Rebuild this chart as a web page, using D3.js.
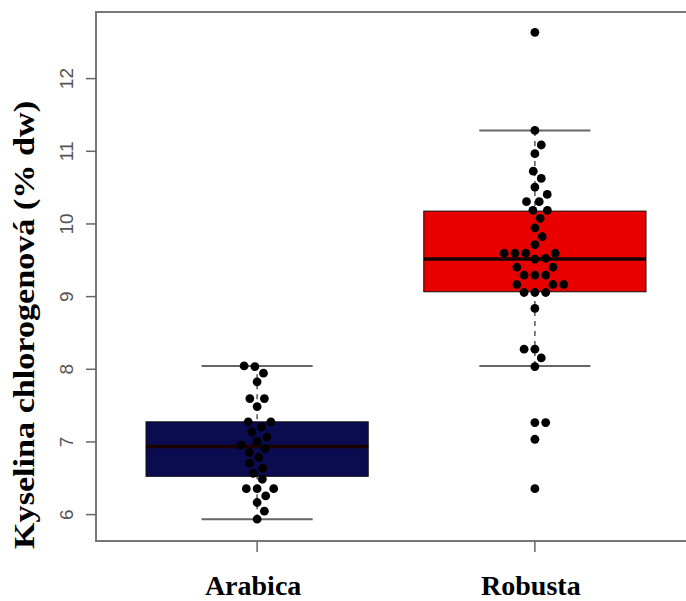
<!DOCTYPE html>
<head>
<style>
body { margin: 0; background: #fff; }
text.cat { font: bold 28px "Liberation Serif", "Times New Roman", serif; fill: #000; }
text.ytitle { font: bold 29px "Liberation Serif", "Times New Roman", serif; fill: #000; }
.tick text { font: 19px "Liberation Sans", Arial, sans-serif; fill: #555; }
</style>
<meta charset="utf-8">
<title></title>
</head>
<body>
<script src="https://cdn.jsdelivr.net/npm/d3@7"></script>
<script>

var categories = ["Arabica", "Robusta"];
var boxColors = ["#0b0b50", "#e80000"];

// box statistics: lower whisker, Q1, median, Q3, upper whisker
var lowWhisker = [5.93, 8.04];
var q1 = [6.52, 9.06];
var median = [6.93, 9.51];
var q3 = [7.27, 10.17];
var highWhisker = [8.04, 11.28];

var arabica = [5.93, 6.04, 6.16, 6.25, 6.35, 6.35, 6.35, 6.48, 6.56, 6.63, 6.70,
  6.78, 6.85, 6.90, 6.95, 7.00, 7.06, 7.13, 7.20, 7.27, 7.27, 7.48, 7.59, 7.59,
  7.82, 7.94, 8.03, 8.04];
var robusta = [6.35, 7.03, 7.26, 7.26, 8.03, 8.15, 8.27, 8.27, 8.83, 9.05, 9.05,
  9.05, 9.16, 9.16, 9.16, 9.29, 9.29, 9.29, 9.40, 9.40, 9.51, 9.52, 9.59, 9.59,
  9.59, 9.59, 9.71, 9.82, 9.94, 10.07, 10.18, 10.18, 10.30, 10.30, 10.40, 10.50,
  10.62, 10.72, 10.96, 11.08, 11.28, 12.63];
var series = [arabica, robusta];

var yTicks = [6, 7, 8, 9, 10, 11, 12];

var width = 686,
    height = 601;

var svg = d3.select("body").append("svg")
    .attr("width", width)
    .attr("height", height);

var x = d3.scaleLinear().domain([0.42, 2.58]).range([96, 696]);
var y = d3.scaleLinear().domain([5.63, 12.91]).range([541, 12]);

// frame
svg.append("rect")
    .attr("x", x(0.42))
    .attr("y", y(12.91))
    .attr("width", x(2.58) - x(0.42))
    .attr("height", y(5.63) - y(12.91))
    .style("fill", "none")
    .style("stroke", "#777")
    .style("stroke-width", 2);

// y axis
var yAxis = svg.append("g")
    .attr("transform", "translate(" + x(0.42) + ",0)")
    .call(d3.axisLeft(y).tickValues(yTicks).tickSize(10));
yAxis.select(".domain").remove();
yAxis.selectAll(".tick line").style("stroke", "#666").style("stroke-width", 1.5);
yAxis.selectAll(".tick text")
    .attr("text-anchor", "middle")
    .attr("dy", null)
    .attr("x", 0)
    .attr("y", 0)
    .attr("dominant-baseline", "central")
    .attr("transform", "translate(-30,0) rotate(-90)");

// x ticks
svg.append("g")
    .selectAll("line")
    .data(categories)
    .enter().append("line")
    .attr("x1", function(d, i) { return x(i + 1); })
    .attr("x2", function(d, i) { return x(i + 1); })
    .attr("y1", y(5.63))
    .attr("y2", y(5.63) + 11)
    .style("stroke", "#666")
    .style("stroke-width", 1.5);

svg.append("g")
    .selectAll("text")
    .data(categories)
    .enter().append("text")
    .attr("class", "cat")
    .attr("x", function(d, i) { return x(i + 1) - 4; })
    .attr("y", 595)
    .attr("text-anchor", "middle")
    .text(function(d) { return d; });

svg.append("text")
    .attr("class", "ytitle")
    .attr("transform", "translate(34,325) rotate(-90)")
    .attr("text-anchor", "middle")
    .attr("textLength", 448)
    .attr("lengthAdjust", "spacingAndGlyphs")
    .text("Kyselina chlorogenová (% dw)");

// boxes
var box = svg.append("g")
    .selectAll("g")
    .data(categories)
    .enter().append("g");

box.append("line")
    .attr("x1", function(d, i) { return x(i + 1); })
    .attr("x2", function(d, i) { return x(i + 1); })
    .attr("y1", function(d, i) { return y(lowWhisker[i]); })
    .attr("y2", function(d, i) { return y(highWhisker[i]); })
    .style("stroke", "#555")
    .style("stroke-width", 1.5)
    .style("stroke-dasharray", "5,5");

box.append("rect")
    .attr("x", function(d, i) { return x(i + 1 - 0.4); })
    .attr("width", function() { return x(1.4) - x(0.6); })
    .attr("y", function(d, i) { return y(q3[i]); })
    .attr("height", function(d, i) { return y(q1[i]) - y(q3[i]); })
    .style("fill", function(d, i) { return boxColors[i]; })
    .style("stroke", "#111")
    .style("stroke-width", 1);

box.append("line")
    .attr("x1", function(d, i) { return x(i + 1 - 0.4); })
    .attr("x2", function(d, i) { return x(i + 1 + 0.4); })
    .attr("y1", function(d, i) { return y(median[i]); })
    .attr("y2", function(d, i) { return y(median[i]); })
    .style("stroke", "#1a0000")
    .style("stroke-width", 3.5);

[lowWhisker, highWhisker].forEach(function(w) {
  box.append("line")
      .attr("x1", function(d, i) { return x(i + 1 - 0.2); })
      .attr("x2", function(d, i) { return x(i + 1 + 0.2); })
      .attr("y1", function(d, i) { return y(w[i]); })
      .attr("y2", function(d, i) { return y(w[i]); })
      .style("stroke", "#666")
      .style("stroke-width", 2);
});

// beeswarm ("swarm" method): place each point as close to the centre as possible
var dotR = 4.4,
    spacing = 10.8;

function swarm(values, cx) {
  var placed = [];
  values.slice().sort(d3.ascending).forEach(function(v) {
    var py = y(v);
    var near = placed.filter(function(p) { return Math.abs(p.y - py) < spacing; });
    var cands = [0];
    near.forEach(function(p) {
      var dx = Math.sqrt(spacing * spacing - (p.y - py) * (p.y - py));
      cands.push(p.off + dx, p.off - dx);
    });
    cands = cands.filter(function(c) {
      return near.every(function(p) {
        var dx = c - p.off, dy = p.y - py;
        return dx * dx + dy * dy >= spacing * spacing - 0.01;
      });
    });
    cands.sort(function(a, b) { return Math.abs(a) - Math.abs(b) || b - a; });
    placed.push({off: cands[0], y: py});
  });
  return placed.map(function(p) { return {x: cx + p.off, y: p.y}; });
}

series.forEach(function(vals, i) {
  svg.append("g")
      .selectAll("circle")
      .data(swarm(vals, x(i + 1)))
      .enter().append("circle")
      .attr("cx", function(d) { return d.x; })
      .attr("cy", function(d) { return d.y; })
      .attr("r", dotR)
      .style("fill", "#000");
});

</script>
</body>
</html>
